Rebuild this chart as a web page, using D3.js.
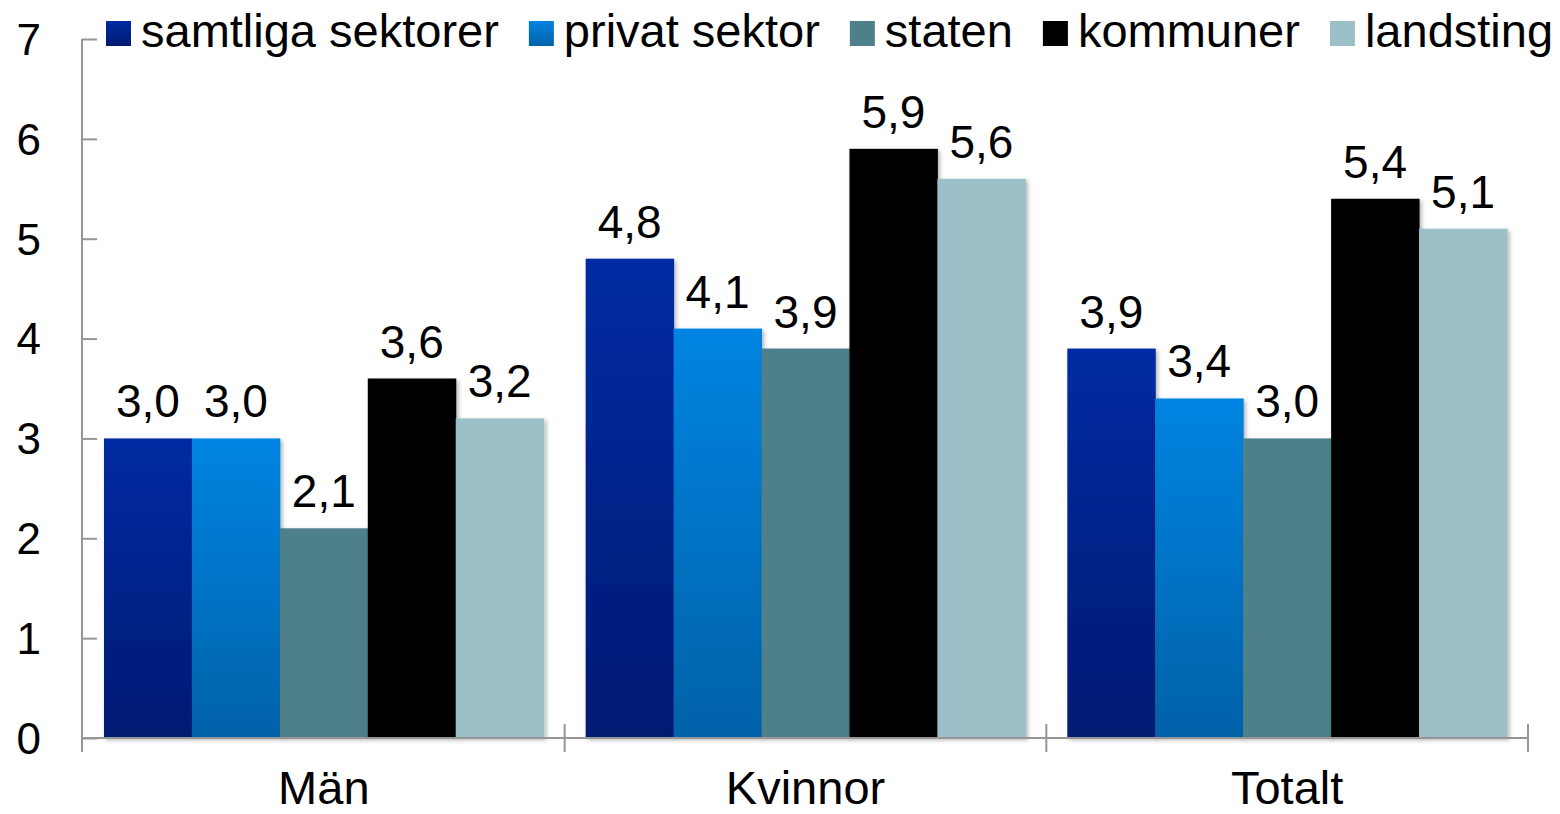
<!DOCTYPE html>
<html>
<head>
<meta charset="utf-8">
<script src="https://cdn.jsdelivr.net/npm/d3@7"></script>
<style>
  html, body { margin: 0; padding: 0; background: #fff; }
  svg { display: block; font-family: "Liberation Sans", Arial, sans-serif; }
</style>
</head>
<body>
<svg id="chart" width="1560" height="814"></svg>
<script>
// ---- data ----
const categories = ["Män", "Kvinnor", "Totalt"];
const seriesNames = ["samtliga sektorer", "privat sektor", "staten", "kommuner", "landsting"];
const samtliga = [3.0, 4.8, 3.9];
const privat = [3.0, 4.1, 3.4];
const staten = [2.1, 3.9, 3.0];
const kommuner = [3.6, 5.9, 5.4];
const landsting = [3.2, 5.6, 5.1];
const yTicks = [0, 1, 2, 3, 4, 5, 6, 7];

const seriesValues = [samtliga, privat, staten, kommuner, landsting];
const fills = ["url(#gradSamtliga)", "url(#gradPrivat)", "#4E8089", "#000000", "#9BC0C7"];

const svg = d3.select("#chart");
const defs = svg.append("defs");
function grad(id, top, bottom) {
  const g = defs.append("linearGradient").attr("id", id)
    .attr("x1", 0).attr("y1", 0).attr("x2", 0).attr("y2", 1);
  g.append("stop").attr("offset", "0%").attr("stop-color", top);
  g.append("stop").attr("offset", "100%").attr("stop-color", bottom);
}
grad("gradSamtliga", "#002BA2", "#001A72");
grad("gradPrivat", "#0084E2", "#0062A8");
const f = defs.append("filter").attr("id", "shadow")
  .attr("x", "-10%").attr("y", "-10%").attr("width", "130%").attr("height", "130%");
f.append("feDropShadow").attr("dx", 2).attr("dy", 2).attr("stdDeviation", 2)
  .attr("flood-color", "#000").attr("flood-opacity", 0.3);

const x0 = d3.scaleBand().domain(categories).range([83, 1528]).padding(0);
const x1 = d3.scaleBand().domain(seriesNames).range([21, x0.bandwidth() - 21]).padding(0);
const y = d3.scaleLinear().domain([0, 7]).range([738, 39]);

const axisColor = "#969696";

// bars
const rows = [];
categories.forEach((c, ci) => {
  seriesNames.forEach((s, si) => rows.push({ c, s, si, v: seriesValues[si][ci] }));
});

const barG = svg.append("g");
barG.selectAll("rect").data(rows).join("rect")
  .attr("x", d => x0(d.c) + x1(d.s))
  .attr("y", d => y(d.v))
  .attr("width", x1.bandwidth() + 0.5)
  .attr("height", d => y(0) - y(d.v))
  .attr("fill", d => fills[d.si])
  .attr("filter", "url(#shadow)");

// data labels
svg.append("g").selectAll("text").data(rows).join("text")
  .attr("x", d => x0(d.c) + x1(d.s) + x1.bandwidth() / 2)
  .attr("y", d => y(d.v) - 21)
  .attr("text-anchor", "middle")
  .attr("font-size", 46)
  .attr("fill", "#000")
  .text(d => d3.format(".1f")(d.v).replace(".", ","));

// y axis
const yAxis = d3.axisLeft(y).tickValues(yTicks).tickSize(-15).tickPadding(0).tickFormat(d => d);
const yg = svg.append("g").attr("transform", "translate(82,0)").call(yAxis);
yg.select(".domain").remove();
yg.selectAll(".tick line").attr("stroke", axisColor).attr("stroke-width", 2);
yg.selectAll(".tick text").attr("x", -41).attr("font-size", 44).attr("fill", "#000")
  .attr("font-family", "Liberation Sans, Arial, sans-serif").attr("dy", "0.35em");
svg.append("line").attr("x1", 82).attr("x2", 82).attr("y1", y(7)).attr("y2", 752)
  .attr("stroke", axisColor).attr("stroke-width", 2);

// x axis
svg.append("line").attr("x1", 82).attr("x2", 1528).attr("y1", y(0)).attr("y2", y(0))
  .attr("stroke", axisColor).attr("stroke-width", 2);
const bounds = categories.map(c => x0(c) + x0.bandwidth());
svg.append("g").selectAll("line").data(bounds).join("line")
  .attr("x1", d => d).attr("x2", d => d).attr("y1", 724).attr("y2", 752)
  .attr("stroke", axisColor).attr("stroke-width", 2);

svg.append("g").selectAll("text").data(categories).join("text")
  .attr("x", d => x0(d) + x0.bandwidth() / 2)
  .attr("y", 804)
  .attr("text-anchor", "middle")
  .attr("font-size", 47)
  .attr("fill", "#000")
  .text(d => d);

// legend
const legend = svg.append("g");
let lx = 106;
seriesNames.forEach((s, i) => {
  legend.append("rect").attr("x", lx).attr("y", 21).attr("width", 25).attr("height", 25)
    .attr("fill", fills[i]);
  const t = legend.append("text").attr("x", lx + 35).attr("y", 47)
    .attr("font-size", 47).attr("fill", "#000").text(s);
  lx = lx + 35 + t.node().getComputedTextLength() + 30;
});
</script>
</body>
</html>
